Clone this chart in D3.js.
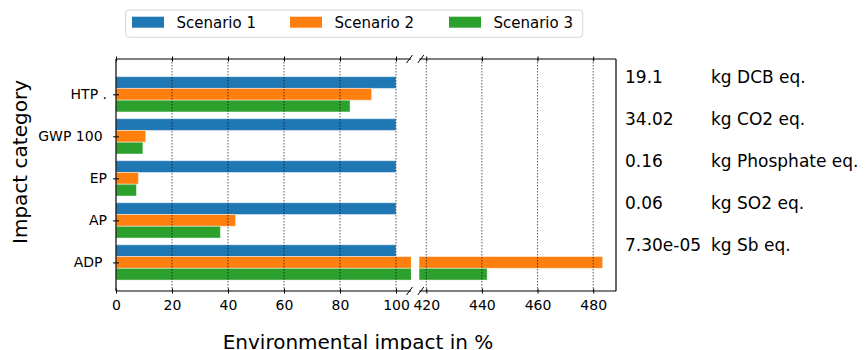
<!DOCTYPE html>
<html>
<head>
<meta charset="utf-8">
<script src="https://cdn.jsdelivr.net/npm/d3@7"></script>
<style>
  html, body { margin: 0; padding: 0; background: #fff; }
  svg { display: block; font-family: "DejaVu Sans", sans-serif; }
  .ytick text { white-space: pre; }
</style>
</head>
<body>
<svg id="chart" width="866" height="350"></svg>
<script>
// Impact categories (top to bottom) and the relative impact of each scenario in %
const categories = ["HTP .", "GWP 100 ", "EP", "AP", "ADP "];
const scenarioNames = ["Scenario 1", "Scenario 2", "Scenario 3"];
const scenario1 = [100, 100, 100, 100, 100];
const scenario2 = [91.3, 10.6, 8.0, 42.7, 483.4];
const scenario3 = [83.6, 9.6, 7.3, 37.3, 441.9];
const colors = ["#1f77b4", "#ff7f0e", "#2ca02c"];

// Absolute values of the reference scenario, printed beside the chart
const refValues = ["19.1", "34.02", "0.16", "0.06", "7.30e-05"];
const refUnits = ["kg DCB eq.", "kg CO2 eq.", "kg Phosphate eq.", "kg SO2 eq.", "kg Sb eq."];

// Tick values of the two halves of the broken x axis
const leftTicks = [0, 20, 40, 60, 80, 100];
const rightTicks = [420, 440, 460, 480];

const series = [scenario1, scenario2, scenario3];
const barOffsets = [-0.28, 0, 0.28];
const barHeight = 0.28;

const svg = d3.select("#chart");

const plotTop = 59, plotBottom = 291;
const leftBox = { x0: 116, x1: 411 };
const rightBox = { x0: 419.3, x1: 616 };

const y = d3.scaleLinear().domain([-0.84, 4.68]).range([plotTop, plotBottom]);
const xL = d3.scaleLinear().domain([0, 105.36]).range([leftBox.x0, leftBox.x1]);
const xR = d3.scaleLinear().domain([417.5, 488.2]).range([rightBox.x0, rightBox.x1]);

const defs = svg.append("defs");
defs.append("clipPath").attr("id", "clipL").append("rect")
  .attr("x", leftBox.x0).attr("y", plotTop)
  .attr("width", leftBox.x1 - leftBox.x0).attr("height", plotBottom - plotTop);
defs.append("clipPath").attr("id", "clipR").append("rect")
  .attr("x", rightBox.x0).attr("y", plotTop)
  .attr("width", rightBox.x1 - rightBox.x0).attr("height", plotBottom - plotTop);

function drawPanel(x, clipId, ticks, box) {
  const g = svg.append("g");
  const bars = g.append("g").attr("clip-path", `url(#${clipId})`);
  series.forEach((vals, s) => {
    bars.selectAll(null)
      .data(vals.map((v, i) => ({ v, i })))
      .join("rect")
      .attr("x", x(0))
      .attr("y", d => y(d.i + barOffsets[s] - barHeight / 2))
      .attr("width", d => Math.max(0, x(d.v) - x(0)))
      .attr("height", y(barHeight) - y(0))
      .attr("fill", colors[s])
      .attr("stroke", "rgba(255,255,255,0.45)")
      .attr("stroke-width", 1);
  });

  // dotted vertical grid
  g.append("g").selectAll("line")
    .data(ticks.filter(t => x(t) > box.x0 + 0.5))
    .join("line")
    .attr("x1", d => x(d)).attr("x2", d => x(d))
    .attr("y1", plotTop).attr("y2", plotBottom)
    .attr("stroke", "#000").attr("stroke-opacity", 0.65)
    .attr("stroke-width", 1).attr("stroke-dasharray", "1.5,1.5");

  // bottom axis
  const ax = g.append("g").attr("transform", `translate(0,${plotBottom})`)
    .call(d3.axisBottom(x).tickValues(ticks).tickSize(5).tickPadding(4).tickFormat(d3.format("d")));
  ax.select(".domain").remove();
  ax.selectAll(".tick line").attr("y1", -2.5).attr("y2", 2.5).attr("stroke", "#000");
  ax.selectAll(".tick text").attr("font-size", 14).attr("font-family", "DejaVu Sans").attr("fill", "#000");

  // top tick marks
  const axTop = g.append("g").attr("transform", `translate(0,${plotTop})`)
    .call(d3.axisTop(x).tickValues(ticks).tickSize(5).tickFormat(""));
  axTop.select(".domain").remove();
  axTop.selectAll(".tick line").attr("y1", -2.5).attr("y2", 2.5).attr("stroke", "#000");
  return g;
}

drawPanel(xL, "clipL", leftTicks, leftBox);
drawPanel(xR, "clipR", rightTicks, rightBox);

// spines
const spine = (x1, y1, x2, y2) => svg.append("line")
  .attr("x1", x1).attr("y1", y1).attr("x2", x2).attr("y2", y2)
  .attr("stroke", "#000").attr("stroke-width", 1.2);
spine(leftBox.x0, plotTop, leftBox.x1, plotTop);
spine(leftBox.x0, plotBottom, leftBox.x1, plotBottom);
spine(leftBox.x0, plotTop, leftBox.x0, plotBottom);
spine(rightBox.x0, plotTop, rightBox.x1, plotTop);
spine(rightBox.x0, plotBottom, rightBox.x1, plotBottom);
spine(rightBox.x1, plotTop, rightBox.x1, plotBottom);

// break marks
[leftBox.x1 - 1.5, rightBox.x0 + 1.5].forEach(cx => {
  [plotTop, plotBottom].forEach(cy => {
    svg.append("line")
      .attr("x1", cx - 3).attr("y1", cy + 4)
      .attr("x2", cx + 3).attr("y2", cy - 4)
      .attr("stroke", "#000").attr("stroke-width", 1);
  });
});

// y axis
const ay = svg.append("g").attr("class", "ytick").attr("transform", `translate(${leftBox.x0},0)`)
  .call(d3.axisLeft(y).tickValues(d3.range(categories.length)).tickSize(3).tickPadding(6)
    .tickFormat(i => categories[i]));
ay.select(".domain").remove();
ay.selectAll(".tick line").attr("x1", -3).attr("x2", 3).attr("stroke", "#000");
ay.selectAll(".tick text").attr("font-size", 14).attr("font-family", "DejaVu Sans").attr("fill", "#000");

// reference values beside the chart
svg.append("g").selectAll("text")
  .data(refValues)
  .join("text")
  .attr("x", 625).attr("y", (d, i) => y(i - 0.42))
  .attr("dominant-baseline", "central")
  .attr("font-size", 17).attr("fill", "#000")
  .text(d => d);
svg.append("g").selectAll("text")
  .data(refUnits)
  .join("text")
  .attr("x", 711).attr("y", (d, i) => y(i - 0.42))
  .attr("dominant-baseline", "central")
  .attr("font-size", 17).attr("fill", "#000")
  .text(d => d);

// axis titles
svg.append("text")
  .attr("x", 358).attr("y", 348.5)
  .attr("text-anchor", "middle").attr("font-size", 20).attr("fill", "#000")
  .text("Environmental impact in %");
svg.append("text")
  .attr("transform", "translate(27,162) rotate(-90)")
  .attr("text-anchor", "middle").attr("font-size", 20).attr("fill", "#000")
  .text("Impact category");

// legend
const legend = svg.append("g");
legend.append("rect")
  .attr("x", 125.7).attr("y", 10).attr("width", 457).attr("height", 27.3)
  .attr("rx", 3).attr("fill", "#fff").attr("stroke", "#d6d6d6").attr("stroke-width", 1);
const legendX = [132, 290, 449];
scenarioNames.forEach((name, s) => {
  legend.append("rect")
    .attr("x", legendX[s]).attr("y", 16.7).attr("width", 32).attr("height", 11)
    .attr("fill", colors[s]);
  legend.append("text")
    .attr("x", legendX[s] + 44.5).attr("y", 27.6)
    .attr("font-size", 15).attr("fill", "#000")
    .text(name);
});
</script>
</body>
</html>
